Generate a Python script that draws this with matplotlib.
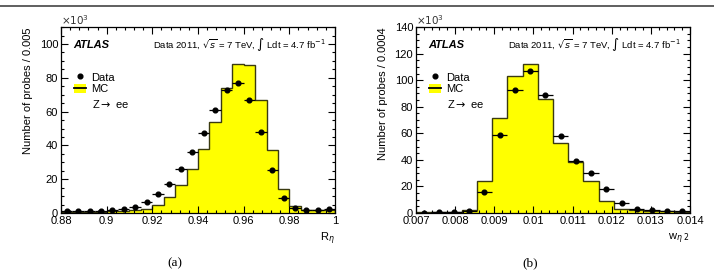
import numpy as np
import matplotlib
matplotlib.use("Agg")
import matplotlib.pyplot as plt
from matplotlib.lines import Line2D
from matplotlib.patches import Patch
from matplotlib.ticker import MultipleLocator, FormatStrFormatter

plt.rcParams["font.family"] = ["Liberation Sans", "DejaVu Sans"]
plt.rcParams["mathtext.fontset"] = "dejavusans"

# panel (a): R_eta, 24 bins of 0.005 from 0.88 to 1.0 (values in 10^3)
reta_edges = np.linspace(0.88, 1.0, 25)
reta_mc = [0.6, 0.6, 0.7, 0.8, 0.9, 1.0, 1.5, 2.6, 5.0, 9.5, 16.4, 26.0,
           38.0, 54.0, 74.0, 88.3, 87.5, 67.0, 37.2, 14.0, 4.0, 2.0, 2.0, 2.0]
reta_data = [1.0, 1.2, 1.3, 1.4, 1.7, 2.4, 3.6, 6.3, 11.0, 17.2, 26.0, 36.0,
             47.2, 61.2, 72.7, 76.8, 67.1, 47.7, 25.2, 9.1, 2.8, 1.6, 2.0, 2.2]

# panel (b): w_eta2, 18 bins from 0.007 to 0.014 (values in 10^3)
weta_edges = np.linspace(0.007, 0.014, 19)
weta_mc = [0.5, 0.5, 0.7, 2.5, 23.8, 71.8, 103.0, 112.0, 86.0, 52.7, 38.1,
           24.1, 9.3, 3.0, 2.0, 1.5, 1.2, 1.0]
weta_data = [0.3, 0.5, 0.7, 1.5, 15.6, 59.0, 92.3, 106.9, 88.8, 58.2, 39.1,
             30.4, 18.3, 7.5, 3.0, 2.0, 1.5, 1.3]

panels = [
    dict(edges=reta_edges, mc=reta_mc, data=reta_data, ylim=110,
         xmaj=0.02, xmin=0.004, xlim=(0.88, 1.0),
         ylabel="Number of probes / 0.005", xlabel=r"R$_{\eta}$", tag="(a)"),
    dict(edges=weta_edges, mc=weta_mc, data=weta_data, ylim=140,
         xmaj=0.001, xmin=0.0002, xlim=(0.007, 0.014),
         ylabel="Number of probes / 0.0004", xlabel=r"w$_{\eta\ 2}$", tag="(b)"),
]

fig = plt.figure(figsize=(7.14, 2.71), dpi=100)
fig.add_artist(Line2D([0.0, 1.0], [0.978, 0.978], color="#444444", linewidth=1.2,
                      transform=fig.transFigure))

lefts = [0.0854, 0.5826]
for p, x0 in zip(panels, lefts):
    ax = fig.add_axes([x0, 0.214, 0.3838, 0.686])
    edges = p["edges"]
    centers = 0.5 * (edges[:-1] + edges[1:])
    half = 0.5 * (edges[1] - edges[0])

    ax.stairs(p["mc"], edges, fill=True, color="#ffff00", linewidth=0)
    ax.stairs(p["mc"], edges, color="#3a3a10", linewidth=1.0)
    ax.errorbar(centers, p["data"], xerr=half, fmt="o", color="black",
                markersize=3.4, elinewidth=0.9, capsize=0)

    ax.set_xlim(*p["xlim"])
    ax.set_ylim(0, p["ylim"])
    ax.xaxis.set_major_locator(MultipleLocator(p["xmaj"]))
    ax.xaxis.set_minor_locator(MultipleLocator(p["xmin"]))
    ax.xaxis.set_major_formatter(FormatStrFormatter("%g"))
    ax.yaxis.set_major_locator(MultipleLocator(20))
    ax.yaxis.set_minor_locator(MultipleLocator(5))
    ax.tick_params(which="both", direction="in", top=True, right=True,
                   labelsize=8, width=0.8, pad=2)
    ax.tick_params(which="major", length=5)
    ax.tick_params(which="minor", length=2.5)
    for s in ax.spines.values():
        s.set_linewidth(0.9)

    ax.set_ylabel(p["ylabel"], fontsize=8, loc="top", labelpad=5)
    ax.text(1.0, -0.14, p["xlabel"], transform=ax.transAxes, ha="right",
            va="center", fontsize=8)
    ax.text(0.0, 1.0, r"$\times10^{3}$", transform=ax.transAxes, ha="left",
            va="bottom", fontsize=7.5, color="#333333")
    ax.text(0.045, 0.905, "ATLAS", transform=ax.transAxes, fontsize=8,
            fontweight="bold", fontstyle="italic", va="center")
    ax.text(0.965, 0.905, r"Data 2011, $\sqrt{s}$ = 7 TeV, $\int$ Ldt = 4.7 fb$^{-1}$",
            transform=ax.transAxes, fontsize=6.8, ha="right", va="center")
    ax.text(0.115, 0.585, r"Z$\rightarrow$ ee", transform=ax.transAxes,
            fontsize=8, va="center")

    handles = [Line2D([], [], marker="o", color="black", linestyle="none", markersize=3.4),
               (Patch(facecolor="#ffff00", edgecolor="none"),
                Line2D([], [], color="black", linewidth=1.3))]
    ax.legend(handles, ["Data", "MC"], loc="upper left", bbox_to_anchor=(0.02, 0.80),
              frameon=False, fontsize=8, handlelength=1.1, handleheight=0.9,
              labelspacing=0.1, handletextpad=0.4, borderpad=0.2)

    fig.text(x0 + 0.3838 * 0.415, 0.03, p["tag"], fontsize=9.5,
             family=["Liberation Serif", "DejaVu Serif"], ha="center", va="center")

fig.savefig("out.png", dpi=100)
